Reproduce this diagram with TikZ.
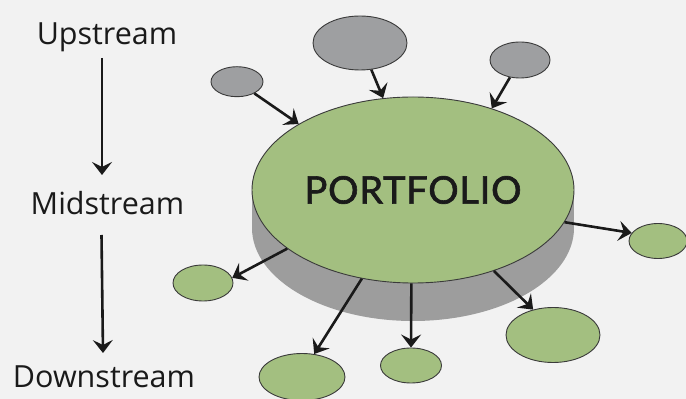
\documentclass[tikz,border=0pt]{standalone}
\usepackage{fontspec}
\setmainfont{Open Sans}
\newfontfamily\portfont[FakeBold=1.6,LetterSpace=2]{Lato}
\usetikzlibrary{shapes.geometric,arrows.meta,calc}
\definecolor{bg}{HTML}{F2F2F2}
\definecolor{leaf}{HTML}{A3BF80}
\definecolor{stone}{HTML}{9E9FA1}
\definecolor{side}{HTML}{9D9D9D}
\definecolor{rim}{HTML}{3A3A3A}
\definecolor{ink}{HTML}{1A1A1A}
\tikzset{
  blob/.style={ellipse, draw=rim, line width=0.9pt, inner sep=0pt},
  gblob/.style={blob, fill=leaf},
  sblob/.style={blob, fill=stone},
  arr/.style={draw=ink, line width=2.6pt, -{Stealth[length=13pt,width=20pt,inset=5pt]}},
  lab/.style={font=\fontsize{30.5}{32}\selectfont, text=ink, anchor=base, inner sep=0pt}
}
\begin{document}
\begin{tikzpicture}[x=1pt,y=1pt]
\useasboundingbox[fill=bg] (0,0) rectangle (686,399);
% cylinder side
\fill[side] (413,171) ellipse [x radius=161, y radius=93];
\fill[side] (252,171) rectangle (574,209);
\node[gblob, minimum width=322pt, minimum height=186pt] (main) at (413,209) {};
\node[font=\portfont\fontsize{38}{40}\selectfont, text=ink] (ptxt) at (413,209) {PORTFOLIO};
% small ellipses
\node[sblob, minimum width=52pt, minimum height=30pt] (s1) at (237,317.3) {};
\node[sblob, minimum width=94pt, minimum height=54pt] (s2) at (360,356) {};
\node[sblob, minimum width=60pt, minimum height=36pt] (s3) at (520,339) {};
\node[gblob, minimum width=60pt, minimum height=36pt] (g1) at (203,116) {};
\node[gblob, minimum width=86pt, minimum height=47pt] (g2) at (302,22) {};
\node[gblob, minimum width=61pt, minimum height=35pt] (g3) at (411,33.5) {};
\node[gblob, minimum width=94pt, minimum height=55pt] (g4) at (553,64) {};
\node[gblob, minimum width=58pt, minimum height=35pt] (g5) at (658,158) {};
% arrows in
\draw[arr] (s1.-34) -- (main.150.8);
\draw[arr] (s2.-67.8) -- (main.108.2);
\draw[arr] (s3.240.9) -- (main.46.8);
% arrows out
\draw[arr] (main.205.9) -- (g1.10);
\draw[arr] (main.240.7) -- (g2.62);
\draw[arr] (main.269.5) -- (g3.north);
\draw[arr] (main.315) -- (g4.128.5);
\draw[arr] (main.348) -- (g5.163);
% left labels
\node[lab] (up) at (107,354) {Upstream};
\node[lab] (mid) at (107.5,184) {Midstream};
\node[lab] (down) at (104,11) {Downstream};
\draw[arr] ($(up.base)+(-5,-13)$) -- ($(mid.base)+(-5.5,40)$);
\draw[arr] ($(mid.base)+(-6,-20)$) -- ($(down.base)+(-1,35)$);
\end{tikzpicture}
\end{document}
